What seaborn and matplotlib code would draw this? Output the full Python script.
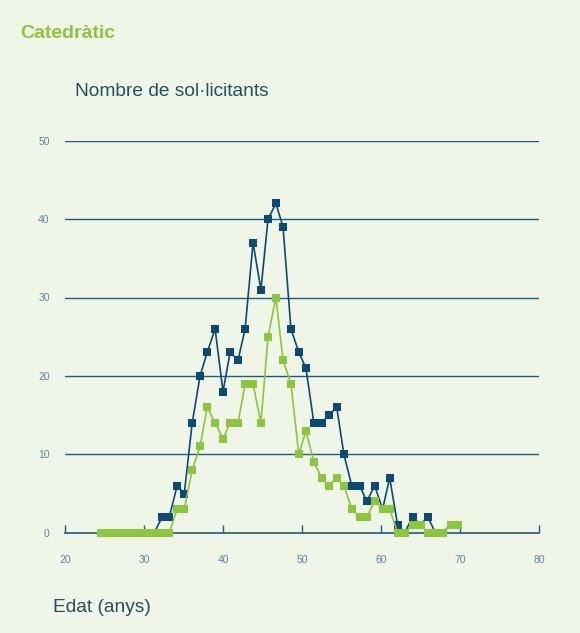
import matplotlib
matplotlib.use("Agg")
import matplotlib.pyplot as plt
import seaborn as sns
import pandas as pd

# Positions of the points along the age axis
edat = [24.6, 25.5, 26.5, 27.4, 28.4, 29.4, 30.3, 31.3, 32.3, 33.2,
        34.2, 35.1, 36.1, 37.1, 38.0, 39.0, 40.0, 40.9, 41.9, 42.8,
        43.8, 44.8, 45.7, 46.7, 47.6, 48.6, 49.6, 50.5, 51.5, 52.5,
        53.4, 54.4, 55.3, 56.3, 57.3, 58.2, 59.2, 60.2, 61.1, 62.1,
        63.0, 64.0, 65.0, 65.9, 66.9, 67.8, 68.8, 69.8]

serie_blava = [0, 0, 0, 0, 0, 0, 0, 0, 2, 2,
               6, 5, 14, 20, 23, 26, 18, 23, 22, 26,
               37, 31, 40, 42, 39, 26, 23, 21, 14, 14,
               15, 16, 10, 6, 6, 4, 6, 3, 7, 1,
               0, 2, 1, 2, 0, 0, 1, 1]

serie_verda = [0, 0, 0, 0, 0, 0, 0, 0, 0, 0,
               3, 3, 8, 11, 16, 14, 12, 14, 14, 19,
               19, 14, 25, 30, 22, 19, 10, 13, 9, 7,
               6, 7, 6, 3, 2, 2, 4, 3, 3, 0,
               0, 1, 1, 0, 0, 0, 1, 1]

x_ticks = [20, 30, 40, 50, 60, 70, 80]
y_ticks = [0, 10, 20, 30, 40, 50]

titol = "Catedràtic"
etiqueta_y = "Nombre de sol·licitants"
etiqueta_x = "Edat (anys)"

df = pd.concat([
    pd.DataFrame({"edat": edat, "n": serie_blava, "serie": "A"}),
    pd.DataFrame({"edat": edat, "n": serie_verda, "serie": "B"}),
], ignore_index=True)

BG = "#eff5e7"
BLUE = "#0b4a72"
GREEN = "#8cc63f"
GRID = "#1d5c80"
TICKC = "#5c88a0"
TXT = "#21515e"

sns.set_theme(style="white")
plt.rcParams["font.family"] = ["Liberation Sans", "DejaVu Sans"]

fig = plt.figure(figsize=(5.8, 6.33), dpi=100)
fig.patch.set_facecolor(BG)
ax = fig.add_axes([65 / 580, 100.3 / 633, 474 / 580, 392 / 633])
ax.set_facecolor(BG)

sns.lineplot(data=df, x="edat", y="n", hue="serie", hue_order=["A", "B"],
             palette={"A": BLUE, "B": GREEN}, marker="s", markersize=5.9,
             markeredgewidth=0, linewidth=1.2, legend=False, ax=ax,
             clip_on=False, zorder=3)

ax.set_xlim(20, 80)
ax.set_ylim(0, 50)
ax.set_xticks(x_ticks)
ax.set_yticks(y_ticks)
ax.set_xticklabels([str(t) for t in x_ticks])
ax.set_yticklabels([str(t) for t in y_ticks])

for y in y_ticks[1:]:
    ax.axhline(y, color=GRID, linewidth=1.0, zorder=1)

for s in ["top", "right", "left"]:
    ax.spines[s].set_visible(False)
ax.spines["bottom"].set_color(GRID)
ax.spines["bottom"].set_linewidth(1.2)
ax.spines["bottom"].set_zorder(2)

ax.tick_params(axis="x", bottom=True, direction="in", length=6, width=1,
               color=GRID, labelsize=7.5, labelcolor=TICKC, pad=16)
ax.tick_params(axis="y", left=False, length=0, labelsize=7.5,
               labelcolor=TICKC, pad=11)
ax.set_xlabel("")
ax.set_ylabel("")

fig.text(20 / 580, 1 - 33 / 633, titol, color=GREEN, fontsize=14,
         fontweight="bold", va="center", ha="left")
fig.text(75 / 580, 1 - 92 / 633, etiqueta_y, color=TXT, fontsize=13.8,
         va="center", ha="left")
fig.text(53 / 580, 1 - 607 / 633, etiqueta_x, color=TXT, fontsize=13.8,
         va="center", ha="left")

fig.savefig("out.png", dpi=100, facecolor=BG)
